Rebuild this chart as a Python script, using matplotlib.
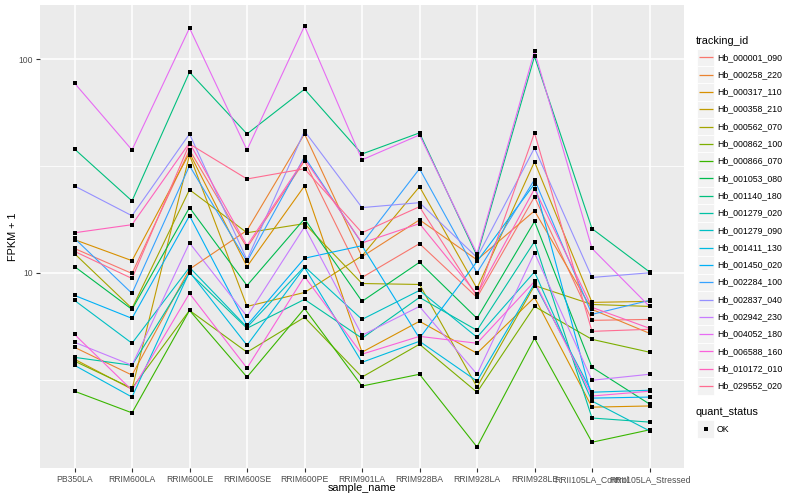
import numpy as np
import matplotlib
matplotlib.use("Agg")
import matplotlib.pyplot as plt
from matplotlib.patches import Rectangle
from matplotlib.ticker import FixedLocator, NullFormatter

plt.rcParams['font.family'] = ['Liberation Sans', 'DejaVu Sans']

samples = ["PB350LA", "RRIM600LA", "RRIM600LE", "RRIM600SE", "RRIM600PE",
           "RRIM901LA", "RRIM928BA", "RRIM928LA", "RRIM928LE",
           "RRII105LA_Control", "RRII105LA_Stressed"]

tracking_ids = ["Hb_000001_090", "Hb_000258_220", "Hb_000317_110", "Hb_000358_210",
                "Hb_000562_070", "Hb_000862_100", "Hb_000866_070", "Hb_001053_080",
                "Hb_001140_180", "Hb_001279_020", "Hb_001279_090", "Hb_001411_130",
                "Hb_001450_020", "Hb_002284_100", "Hb_002837_040", "Hb_002942_230",
                "Hb_004052_180", "Hb_006588_160", "Hb_010172_010", "Hb_029552_020"]

hb_000001_090 = [13.0, 9.93, 37.6, 13.1, 33.4, 9.51, 13.7, 7.67, 22.7, 5.99, 6.05]
hb_000258_220 = [4.48, 3.32, 10.4, 15.8, 44.7, 11.9, 17.7, 11.5, 19.5, 6.74, 5.21]
hb_000317_110 = [14.3, 11.4, 36.4, 10.7, 25.5, 4.25, 5.93, 4.2, 7.67, 2.35, 2.38]
hb_000358_210 = [3.94, 2.85, 35.6, 6.96, 8.09, 12.0, 25.3, 8.45, 33.1, 7.27, 7.35]
hb_000562_070 = [12.3, 6.81, 24.5, 15.4, 17.0, 8.91, 8.82, 2.92, 8.72, 7.11, 6.96]
hb_000862_100 = [3.86, 2.88, 6.67, 4.25, 6.19, 3.25, 4.63, 2.76, 6.96, 4.88, 4.25]
hb_000866_070 = [2.79, 2.21, 6.67, 3.25, 6.81, 2.95, 3.35, 1.53, 4.94, 1.61, 1.84]
hb_001053_080 = [10.7, 6.74, 20.2, 8.72, 17.9, 7.35, 11.2, 6.12, 17.4, 3.61, 2.43]
hb_001140_180 = [38.0, 21.7, 87.0, 44.7, 72.4, 36.0, 45.2, 12.0, 103.0, 16.1, 10.1]
hb_001279_020 = [4.02, 3.69, 10.0, 5.5, 7.51, 4.94, 7.67, 5.38, 14.0, 2.09, 2.0]
hb_001279_090 = [7.43, 4.68, 10.6, 5.56, 10.7, 6.05, 8.27, 4.99, 10.1, 2.51, 1.82]
hb_001411_130 = [3.69, 2.62, 10.1, 4.58, 10.6, 3.81, 4.78, 3.11, 8.91, 2.76, 2.82]
hb_001450_020 = [7.84, 6.12, 18.5, 5.68, 11.7, 13.4, 4.94, 11.3, 26.1, 2.59, 2.62]
hb_002284_100 = [14.5, 8.01, 31.7, 11.3, 34.9, 13.7, 30.7, 10.0, 27.3, 6.39, 7.43]
hb_002837_040 = [25.5, 18.5, 44.7, 11.5, 46.1, 20.2, 21.3, 11.8, 38.4, 9.51, 10.0]
hb_002942_230 = [4.73, 3.69, 13.8, 6.25, 16.4, 5.1, 6.96, 3.35, 12.4, 3.14, 3.35]
hb_004052_180 = [77.3, 37.6, 140.0, 37.6, 143.0, 33.8, 44.2, 12.3, 109.0, 13.0, 6.96]
hb_006588_160 = [5.15, 2.82, 8.01, 3.58, 9.61, 4.16, 5.04, 4.68, 9.11, 2.65, 2.79]
hb_010172_010 = [15.4, 16.8, 40.6, 13.4, 34.1, 13.8, 17.0, 7.92, 24.7, 6.89, 5.5]
hb_029552_020 = [12.6, 9.41, 40.1, 27.5, 30.7, 15.4, 20.4, 7.75, 45.2, 5.32, 5.44]

series = [hb_000001_090, hb_000258_220, hb_000317_110, hb_000358_210, hb_000562_070,
          hb_000862_100, hb_000866_070, hb_001053_080, hb_001140_180, hb_001279_020,
          hb_001279_090, hb_001411_130, hb_001450_020, hb_002284_100, hb_002837_040,
          hb_002942_230, hb_004052_180, hb_006588_160, hb_010172_010, hb_029552_020]

colors = ["#F8766D", "#EA8331", "#D89000", "#C09B00", "#A3A500", "#7CAE00", "#39B600",
          "#00BB4E", "#00BF7D", "#00C1A3", "#00BFC4", "#00BAE0", "#00B0F6", "#35A2FF",
          "#9590FF", "#C77CFF", "#E76BF3", "#FA62DB", "#FF62BC", "#FF6C91"]

W, H = 800, 500
fig = plt.figure(figsize=(8, 5), dpi=100)
fig.patch.set_facecolor('white')

pl, pr, pt, pb = 40, 684, 5, 468
ax = fig.add_axes([pl / W, 1 - pb / H, (pr - pl) / W, (pb - pt) / H])
ax.set_facecolor('#EBEBEB')
ax.set_yscale('log')

x = np.arange(len(samples))
for vals, c in zip(series, colors):
    ax.plot(x, vals, color=c, lw=0.8, zorder=2, solid_capstyle='butt')
for vals in series:
    ax.plot(x, vals, 's', color='black', ms=2.6, mew=0, zorder=3)

allv = np.log10(np.concatenate([np.array(s) for s in series]))
lo, hi = allv.min(), allv.max()
pad = 0.05 * (hi - lo)
ax.set_ylim(10 ** (lo - pad), 10 ** (hi + pad))
ax.set_xlim(-0.6, len(samples) - 1 + 0.6)

ax.set_yticks([10, 100])
ax.set_yticklabels(["10", "100"])
ax.yaxis.set_minor_locator(FixedLocator([10 ** 0.5, 10 ** 1.5]))
ax.yaxis.set_minor_formatter(NullFormatter())
ax.set_xticks(x)
ax.set_xticklabels(samples)

ax.grid(which='major', color='white', lw=1.1, zorder=0)
ax.grid(which='minor', axis='y', color='white', lw=0.55, zorder=0)
ax.set_axisbelow(True)
for s in ax.spines.values():
    s.set_visible(False)
ax.tick_params(which='major', length=3.2, width=0.8, color='#333333',
               labelcolor='#4D4D4D', labelsize=6.2, pad=2)
ax.tick_params(which='minor', length=0)

# overlay for titles and legend in pixel coordinates
ov = fig.add_axes([0, 0, 1, 1])
ov.set_xlim(0, W)
ov.set_ylim(H, 0)
ov.axis('off')
ov.patch.set_alpha(0)

ov.text((pl + pr) / 2, 488, "sample_name", ha='center', va='center', fontsize=7.8, color='black')
ov.text(13, (pt + pb) / 2, "FPKM + 1", ha='center', va='center', rotation=90, fontsize=7.8, color='black')

# legend: tracking_id
ov.text(696, 41, "tracking_id", ha='left', va='center', fontsize=7.8, color='black')
key_w, key_h, step, y0 = 17, 17.3, 17.3, 57.3
for i, (tid, c) in enumerate(zip(tracking_ids, colors)):
    yc = y0 + i * step
    ov.add_patch(Rectangle((697, yc - key_h / 2), key_w, key_h, facecolor='#F2F2F2',
                           edgecolor='white', lw=0.6))
    ov.plot([698.5, 712.5], [yc, yc], color=c, lw=0.9, solid_capstyle='butt')
    ov.text(717, yc, tid, ha='left', va='center', fontsize=6.3, color='black')

# legend: quant_status
ov.text(696, 412, "quant_status", ha='left', va='center', fontsize=7.8, color='black')
ov.add_patch(Rectangle((697, 429 - key_h / 2), key_w, key_h, facecolor='#F2F2F2',
                       edgecolor='white', lw=0.6))
ov.plot([705.5], [429], 's', color='black', ms=2.6, mew=0)
ov.text(717, 429, "OK", ha='left', va='center', fontsize=6.3, color='black')

fig.savefig("out.png", dpi=100, facecolor='white')
